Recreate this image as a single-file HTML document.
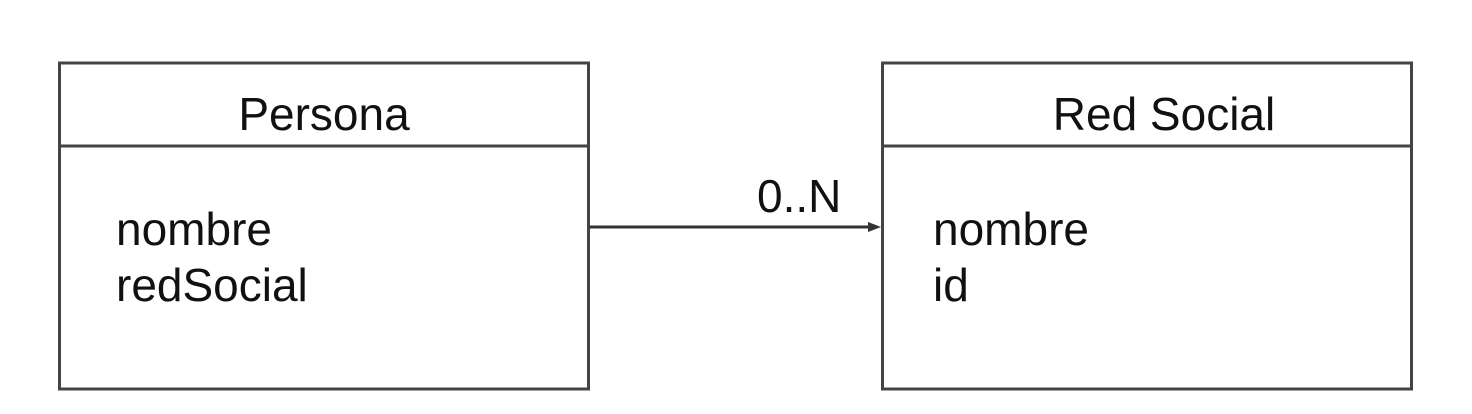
<!DOCTYPE html>
<html><head><meta charset="utf-8"><style>
html,body{margin:0;padding:0;background:#fff;width:1472px;height:414px;overflow:hidden}
text{font-family:"Liberation Sans",sans-serif;fill:#111}
</style></head><body>
<svg width="1472" height="414">
<g>
<rect x="59.5" y="63" width="529" height="326" fill="none" stroke="#444" stroke-width="3"/>
<line x1="59" y1="146" x2="588" y2="146" stroke="#444" stroke-width="3"/>
<text x="324" y="130" font-size="46" text-anchor="middle">Persona</text>
<text x="116" y="245" font-size="46">nombre</text>
<text x="116" y="301" font-size="46">redSocial</text>
</g>
<g>
<rect x="882.5" y="63" width="529" height="326" fill="none" stroke="#444" stroke-width="3"/>
<line x1="882" y1="146" x2="1411" y2="146" stroke="#444" stroke-width="3"/>
<text x="1164" y="130" font-size="46" text-anchor="middle">Red Social</text>
<text x="933" y="245" font-size="46">nombre</text>
<text x="933" y="301" font-size="46">id</text>
</g>
<g>
<line x1="589" y1="227" x2="876" y2="227" stroke="#333" stroke-width="3"/>
<polygon points="868,222 881,227 868,232" fill="#333"/>
<text x="757" y="212" font-size="46">0..N</text>
</g>
</svg>
</body></html>
